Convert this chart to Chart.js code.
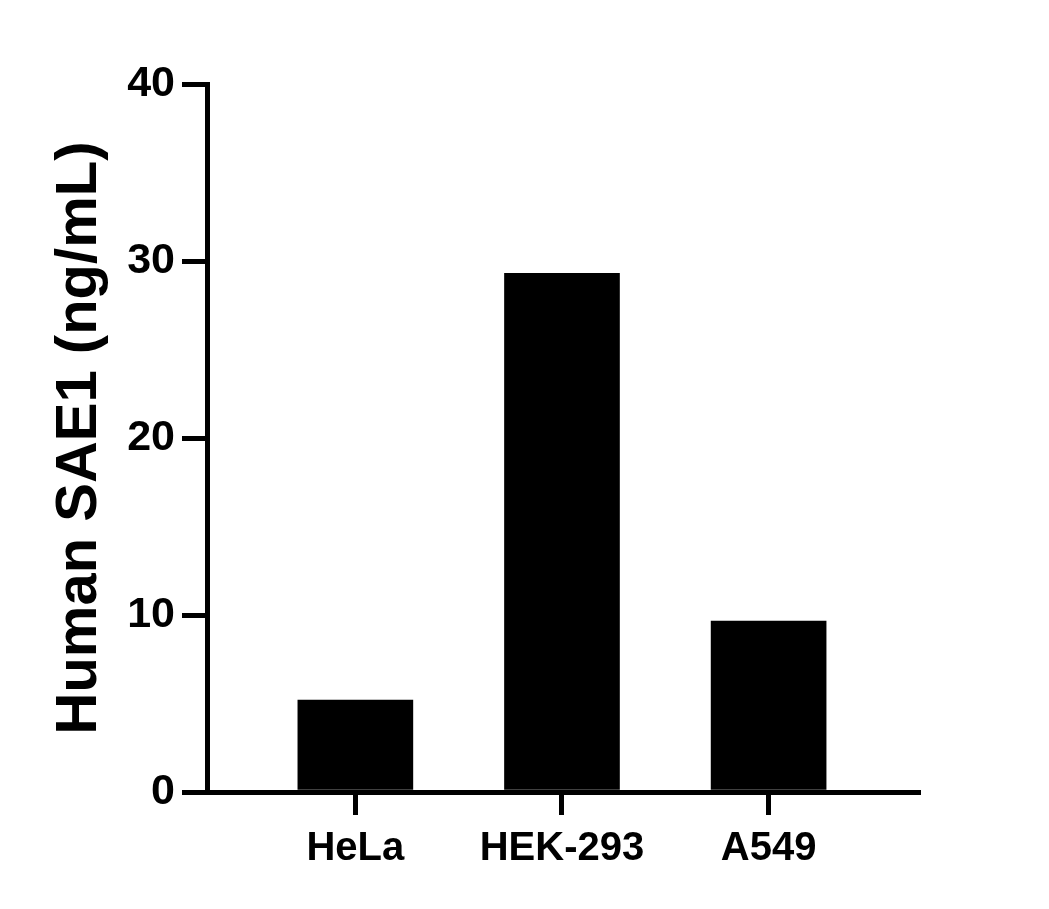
<!DOCTYPE html>
<html>
<head>
<meta charset="utf-8">
<script src="https://cdn.jsdelivr.net/npm/chart.js@4"></script>
<style>
  html, body { margin: 0; padding: 0; background: #fff; }
  #grafico { display: block; }
</style>
</head>
<body>
<canvas id="grafico" width="1049" height="909"></canvas>
<script>
// Datos
var categorias = ['HeLa', 'HEK-293', 'A549'];
var valores = [5.2, 29.3, 9.65];
var ticksY = [0, 10, 20, 30, 40];

(function () {
    'use strict';

    var puntos = categorias.map(function (c, i) {
        return { x: i, y: valores[i] };
    });

    var fuente = "'Liberation Sans', Arial, sans-serif";

    new Chart(document.getElementById('grafico').getContext('2d'), {
        type: 'bar',
        data: {
            datasets: [{
                data: puntos,
                backgroundColor: '#000000',
                borderWidth: 0,
                barThickness: 115
            }]
        },
        options: {
            responsive: false,
            animation: false,
            devicePixelRatio: 1,
            layout: {
                padding: { left: 0, right: 131, top: 84, bottom: 0 }
            },
            plugins: {
                legend: { display: false },
                tooltip: { enabled: false }
            },
            scales: {
                x: {
                    type: 'linear',
                    offset: false,
                    min: -0.718,
                    max: 2.723,
                    afterBuildTicks: function (scale) {
                        scale.ticks = categorias.map(function (c, i) { return { value: i }; });
                    },
                    afterFit: function (scale) { scale.height = 117; },
                    grid: {
                        offset: false,
                        drawOnChartArea: false,
                        drawTicks: true,
                        color: '#000000',
                        lineWidth: 5,
                        tickLength: 23
                    },
                    border: { display: true, color: '#000000', width: 5 },
                    ticks: {
                        autoSkip: false,
                        maxRotation: 0,
                        padding: 10,
                        color: '#000000',
                        font: { family: fuente, size: 40, weight: 'bold' },
                        callback: function (v) { return categorias[v]; }
                    }
                },
                y: {
                    min: 0,
                    max: 40,
                    afterBuildTicks: function (scale) {
                        scale.ticks = ticksY.map(function (v) { return { value: v }; });
                    },
                    afterFit: function (scale) { scale.width = 207; },
                    grid: {
                        drawOnChartArea: false,
                        drawTicks: true,
                        color: '#000000',
                        lineWidth: 5,
                        tickLength: 25
                    },
                    border: { display: true, color: '#000000', width: 5 },
                    ticks: {
                        padding: 7,
                        color: '#000000',
                        font: { family: fuente, size: 43, weight: 'bold' }
                    },
                    title: {
                        display: true,
                        text: 'Human SAE1 (ng/mL)',
                        color: '#000000',
                        padding: { top: 45, bottom: 0 },
                        font: { family: fuente, size: 58, weight: 'bold' }
                    }
                }
            }
        }
    });
})();
</script>
</body>
</html>
